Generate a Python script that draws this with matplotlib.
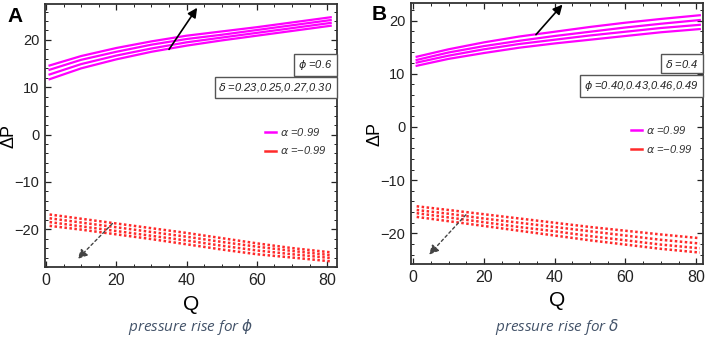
import matplotlib
matplotlib.use("Agg")
import matplotlib.pyplot as plt
from matplotlib.ticker import MultipleLocator
from matplotlib.lines import Line2D

plt.rcParams['font.family'] = ['Liberation Sans', 'DejaVu Sans']

# ---------------- data ----------------
Q = [1, 10, 20, 30, 40, 50, 60, 70, 81]

# Panel A (phi = 0.6, delta = 0.23, 0.25, 0.27, 0.30)
A_pos_1 = [14.6, 16.6, 18.3, 19.7, 20.9, 21.8, 22.7, 23.7, 24.8]
A_pos_2 = [13.7, 15.8, 17.5, 19.0, 20.2, 21.1, 22.1, 23.1, 24.2]
A_pos_3 = [12.7, 14.9, 16.7, 18.2, 19.5, 20.5, 21.5, 22.5, 23.6]
A_pos_4 = [11.7, 14.0, 15.9, 17.5, 18.8, 19.9, 20.9, 21.9, 23.0]
A_neg_1 = [-16.9, -17.8, -18.8, -19.8, -20.8, -21.9, -23.0, -24.0, -24.9]
A_neg_2 = [-17.7, -18.6, -19.6, -20.6, -21.6, -22.7, -23.7, -24.6, -25.5]
A_neg_3 = [-18.5, -19.4, -20.4, -21.4, -22.4, -23.5, -24.5, -25.3, -26.1]
A_neg_4 = [-19.3, -20.1, -21.1, -22.1, -23.2, -24.3, -25.3, -26.0, -26.8]

# Panel B (delta = 0.4, phi = 0.40, 0.43, 0.46, 0.49)
B_pos_1 = [13.2, 14.6, 15.9, 17.0, 17.9, 18.8, 19.6, 20.3, 21.0]
B_pos_2 = [12.6, 14.0, 15.2, 16.2, 17.1, 17.9, 18.7, 19.4, 20.1]
B_pos_3 = [12.1, 13.4, 14.6, 15.6, 16.4, 17.2, 17.9, 18.6, 19.2]
B_pos_4 = [11.5, 12.8, 13.9, 14.9, 15.7, 16.4, 17.1, 17.8, 18.4]
B_neg_1 = [-14.9, -15.6, -16.4, -17.2, -18.0, -18.8, -19.5, -20.2, -20.9]
B_neg_2 = [-15.6, -16.3, -17.2, -18.0, -18.8, -19.6, -20.4, -21.2, -21.9]
B_neg_3 = [-16.2, -17.0, -17.9, -18.8, -19.6, -20.5, -21.3, -22.1, -22.8]
B_neg_4 = [-16.9, -17.7, -18.6, -19.5, -20.4, -21.3, -22.1, -22.9, -23.6]

x_ticks = [0, 20, 40, 60, 80]
y_ticks = [-20, -10, 0, 10, 20]
legend_labels = [r"$\alpha$ =0.99", r"$\alpha$ =−0.99"]

MAG = "#ff00ff"
RED = "#ff2a2a"

fig = plt.figure(figsize=(7.06, 3.37), dpi=100)
W, H = 706, 337

def ax_from_px(l, r, t, b):
    return fig.add_axes([l / W, 1 - b / H, (r - l) / W, (b - t) / H])

axA = ax_from_px(45, 337, 4, 267)
axB = ax_from_px(411, 703, 3, 264)


def style(ax, xlim, ylim, ylab_x_px, left_px):
    ax.set_xlim(*xlim)
    ax.set_ylim(*ylim)
    ax.set_xticks(x_ticks)
    ax.set_yticks(y_ticks)
    ax.xaxis.set_minor_locator(MultipleLocator(5))
    ax.yaxis.set_minor_locator(MultipleLocator(2))
    ax.tick_params(which='both', direction='in', top=True, right=True,
                   labelsize=10.5, colors='#222222')
    ax.tick_params(which='major', length=4, width=0.9, pad=4)
    ax.tick_params(which='minor', length=2, width=0.7)
    ax.tick_params(axis='x', labelsize=11.5)
    for s in ax.spines.values():
        s.set_linewidth(1.3)
        s.set_color('#333333')
    ax.set_xlabel("Q", fontsize=15, labelpad=5)
    ax.set_ylabel("ΔP", fontsize=13, va='center')
    ax.yaxis.set_label_coords((ylab_x_px - left_px) / 292.0, 0.5)


def panel(ax, pos, neg, box1, box2, arrow_solid, arrow_dash):
    for y in pos:
        ax.plot(Q, y, color=MAG, lw=1.6)
    for y in neg:
        ax.plot(Q, y, color=RED, lw=1.8, linestyle=(0, (1, 1)))
    bbox = dict(boxstyle='square,pad=0.35', fc='white', ec='#555555', lw=1.0)
    ax.text(0.985, 0.768, box1, transform=ax.transAxes, ha='right', va='center',
            fontsize=8, style='italic', bbox=bbox, color='#222222')
    ax.text(0.985, 0.683, box2, transform=ax.transAxes, ha='right', va='center',
            fontsize=8, style='italic', bbox=bbox, color='#222222')
    handles = [Line2D([], [], color=MAG, lw=1.8),
               Line2D([], [], color=RED, lw=1.8)]
    leg = ax.legend(handles, legend_labels, loc='upper right',
                    bbox_to_anchor=(1.0, 0.575), frameon=False, fontsize=8,
                    handlelength=1.0, handletextpad=0.4, labelspacing=0.6)
    for t in leg.get_texts():
        t.set_style('italic')
        t.set_color('#333333')
    (s0, s1) = arrow_solid
    ax.annotate("", xy=s1, xytext=s0,
                arrowprops=dict(arrowstyle='-|>', color='black', lw=1.2,
                                mutation_scale=14, shrinkA=0, shrinkB=0))
    (d0, d1) = arrow_dash
    ax.annotate("", xy=d1, xytext=d0,
                arrowprops=dict(arrowstyle='-|>', color='#444444', lw=1.0,
                                linestyle=(0, (2, 2)), mutation_scale=14,
                                shrinkA=0, shrinkB=0))


style(axA, (-0.3, 82.8), (-28.0, 27.6), 9, 45)
style(axB, (-0.6, 81.9), (-25.75, 23.3), 375, 411)

panel(axA, [A_pos_1, A_pos_2, A_pos_3, A_pos_4],
      [A_neg_1, A_neg_2, A_neg_3, A_neg_4],
      r"$\phi$ =0.6", r"$\delta$ =0.23,0.25,0.27,0.30",
      ((35, 18.0), (43, 26.8)), ((18.9, -18.8), (9.0, -26.3)))
panel(axB, [B_pos_1, B_pos_2, B_pos_3, B_pos_4],
      [B_neg_1, B_neg_2, B_neg_3, B_neg_4],
      r"$\delta$ =0.4", r"$\phi$ =0.40,0.43,0.46,0.49",
      ((34.7, 17.35), (42.2, 23.0)), ((14.9, -16.5), (4.5, -24.0)))

fig.text(15 / W, 1 - 17 / H, "A", fontsize=15, fontweight='bold', va='center', ha='center')
fig.text(379 / W, 1 - 14 / H, "B", fontsize=15, fontweight='bold', va='center', ha='center')

fig.text(191 / W, 1 - 327 / H, r"pressure rise for $\phi$", fontsize=11, style='italic',
         color='#44546a', ha='center', va='center', family=['Open Sans', 'DejaVu Sans'])
fig.text(557 / W, 1 - 327 / H, r"pressure rise for $\delta$", fontsize=11, style='italic',
         color='#44546a', ha='center', va='center', family=['Open Sans', 'DejaVu Sans'])

fig.savefig("out.png", dpi=100)
